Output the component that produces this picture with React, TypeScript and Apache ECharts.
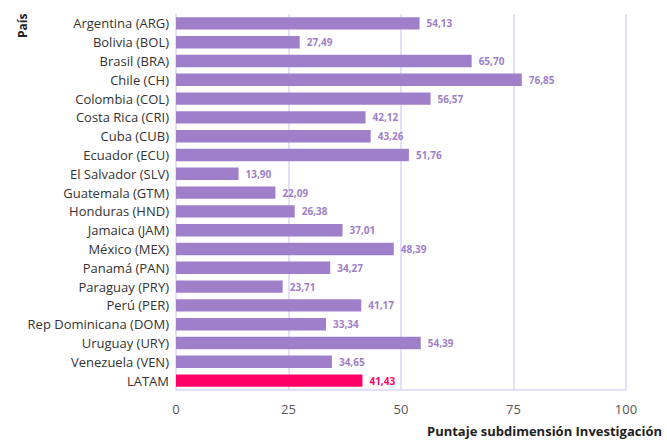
import React, { useEffect, useRef } from "react";
import * as echarts from "echarts";

const categories = [
  "Argentina (ARG)", "Bolivia (BOL)", "Brasil (BRA)", "Chile (CH)", "Colombia (COL)",
  "Costa Rica (CRI)", "Cuba (CUB)", "Ecuador (ECU)", "El Salvador (SLV)", "Guatemala (GTM)",
  "Honduras (HND)", "Jamaica (JAM)", "México (MEX)", "Panamá (PAN)", "Paraguay (PRY)",
  "Perú (PER)", "Rep Dominicana (DOM)", "Uruguay (URY)", "Venezuela (VEN)", "LATAM",
];
const values = [
  54.13, 27.49, 65.7, 76.85, 56.57, 42.12, 43.26, 51.76, 13.9, 22.09,
  26.38, 37.01, 48.39, 34.27, 23.71, 41.17, 33.34, 54.39, 34.65, 41.43,
];
const xTicks = [0, 25, 50, 75, 100];
const xTitle = "Puntaje subdimensión Investigación";
const yTitle = "País";

const BAR = "#a07fca";
const HIGHLIGHT = "#ff0066";

export default function App() {
  const ref = useRef<HTMLDivElement>(null);
  useEffect(() => {
    if (!ref.current) return;
    const chart = echarts.init(ref.current, undefined, { renderer: "svg" });
    const font = "'Open Sans', sans-serif";
    chart.setOption({
      animation: false,
      grid: { left: 176, right: 41, top: 14, bottom: 58 },
      graphic: [
        {
          type: "text",
          x: 16,
          y: 38,
          rotation: Math.PI / 2,
          style: {
            text: yTitle, fontWeight: "bold", fontSize: 12, fill: "#222",
            fontFamily: font, align: "left", verticalAlign: "top",
          },
        },
        {
          type: "text",
          right: 5,
          top: 424,
          style: {
            text: xTitle, fontWeight: "bold", fontSize: 13, fill: "#222",
            fontFamily: font,
          },
        },
      ],
      xAxis: {
        type: "value",
        min: xTicks[0],
        max: xTicks[xTicks.length - 1],
        interval: 25,
        axisLine: { show: true, lineStyle: { color: "#dcd6f7", width: 1.5 } },
        axisTick: { show: false },
        axisLabel: { color: "#555", fontSize: 13, margin: 12, fontFamily: font },
        splitLine: { show: true, lineStyle: { color: "#dcd6f7", width: 1.5 } },
      },
      yAxis: {
        type: "category",
        inverse: true,
        data: categories,
        axisLine: { show: false },
        axisTick: { show: false },
        axisLabel: { color: "#333", fontSize: 13, margin: 7, fontFamily: font },
        splitLine: { show: false },
      },
      series: [
        {
          type: "bar",
          barWidth: "66%",
          data: values.map((v, i) => ({
            value: v,
            itemStyle: { color: categories[i] === "LATAM" ? HIGHLIGHT : BAR },
            label: { color: categories[i] === "LATAM" ? HIGHLIGHT : BAR },
          })),
          label: {
            show: true,
            position: "right",
            distance: 7,
            fontSize: 10,
            fontWeight: "bold",
            fontFamily: font,
            formatter: (p: any) => p.value.toFixed(2).replace(".", ","),
          },
        },
      ],
    });
    return () => chart.dispose();
  }, []);
  return <div ref={ref} style={{ width: 667, height: 448, position: "absolute", left: 0, top: 0 }} />;
}
